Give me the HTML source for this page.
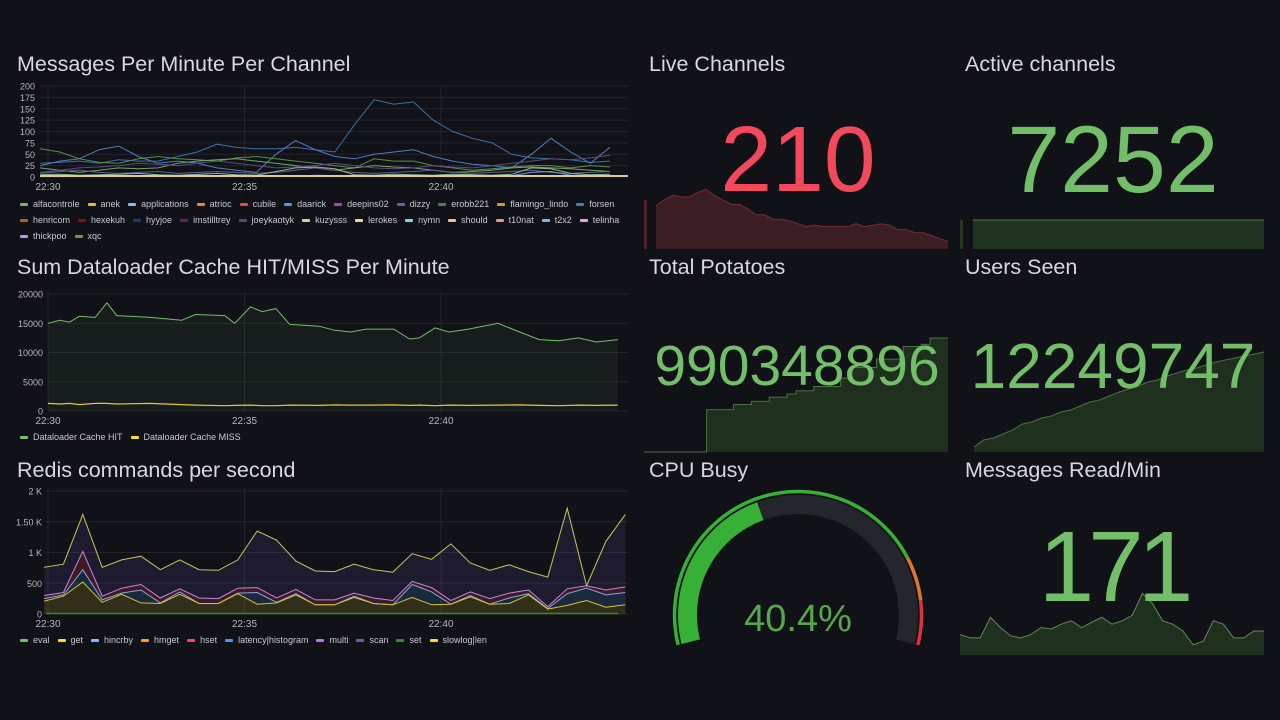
<!DOCTYPE html>
<html><head><meta charset="utf-8"><style>
html,body{margin:0;padding:0;background:#111217;width:1280px;height:720px;overflow:hidden;font-family:"Liberation Sans",sans-serif;color:#ccccdc}
.t{position:absolute;font-size:21.5px;color:#d8d9e0;white-space:nowrap}
svg{position:absolute;left:0;top:0}
.lg{position:absolute;font-size:9px;color:#c7c8d0;white-space:nowrap;display:flex;gap:8px}
.lg span{display:flex;align-items:center}
.lg i{display:inline-block;width:8px;height:3px;border-radius:1px;margin-right:5px}
.big{position:absolute;text-align:center;white-space:nowrap}
</style></head><body>
<div class="t" style="left:17px;top:52px">Messages Per Minute Per Channel</div>
<div class="t" style="left:17px;top:255px">Sum Dataloader Cache HIT/MISS Per Minute</div>
<div class="t" style="left:17px;top:458px">Redis commands per second</div>
<div class="t" style="left:649px;top:52px">Live Channels</div>
<div class="t" style="left:965px;top:52px">Active channels</div>
<div class="t" style="left:649px;top:255px">Total Potatoes</div>
<div class="t" style="left:965px;top:255px">Users Seen</div>
<div class="t" style="left:649px;top:458px">CPU Busy</div>
<div class="t" style="left:965px;top:458px">Messages Read/Min</div>

<svg id="chart" width="1280" height="720"></svg>

<div class="big" style="left:648px;width:300px;top:106px;font-size:93px;color:#f2495c">210</div>
<div class="big" style="left:963px;width:300px;top:106px;font-size:95px;color:#73bf69">7252</div>
<div class="big" style="left:647px;width:300px;top:333px;font-size:57px;color:#73bf69">990348896</div>
<div class="big" style="left:963px;width:300px;top:329px;font-size:64px;color:#73bf69">12249747</div>
<div class="big" style="left:963px;width:300px;top:510px;font-size:100px;color:#73bf69;letter-spacing:-6px">171</div>
<div class="big" style="left:698px;width:200px;top:598px;font-size:38px;color:#56a64b">40.4%</div>

<div class="lg" style="left:20px;top:199px">
<span><i style="background:#7eb26d"></i>alfacontrole</span><span><i style="background:#eab839"></i>anek</span><span><i style="background:#8ab8ff"></i>applications</span><span><i style="background:#ef843c"></i>atrioc</span><span><i style="background:#e24d42"></i>cubile</span><span><i style="background:#5794f2"></i>daarick</span><span><i style="background:#ba43a9"></i>deepins02</span><span><i style="background:#705da0"></i>dizzy</span><span><i style="background:#508642"></i>erobb221</span><span><i style="background:#cca300"></i>flamingo_lindo</span><span><i style="background:#447ebc"></i>forsen</span></div>
<div class="lg" style="left:20px;top:215px">
<span><i style="background:#c15c17"></i>henricom</span><span><i style="background:#890f02"></i>hexekuh</span><span><i style="background:#0a437c"></i>hyyjoe</span><span><i style="background:#6d1f62"></i>imstilltrey</span><span><i style="background:#584477"></i>joeykaotyk</span><span><i style="background:#b7dbab"></i>kuzysss</span><span><i style="background:#f4d598"></i>lerokes</span><span><i style="background:#70dbed"></i>nymn</span><span><i style="background:#f9ba8f"></i>should</span><span><i style="background:#f29191"></i>t10nat</span><span><i style="background:#82b5d8"></i>t2x2</span><span><i style="background:#e5a8e2"></i>telinha</span></div>
<div class="lg" style="left:20px;top:231px">
<span><i style="background:#aea2e0"></i>thickpoo</span><span><i style="background:#629e51"></i>xqc</span></div>
<div class="lg" style="left:20px;top:432px">
<span><i style="background:#73bf69"></i>Dataloader Cache HIT</span><span><i style="background:#fade2a"></i>Dataloader Cache MISS</span></div>
<div class="lg" style="left:20px;top:635px">
<span><i style="background:#73bf69"></i>eval</span><span><i style="background:#fade2a"></i>get</span><span><i style="background:#8ab8ff"></i>hincrby</span><span><i style="background:#ff9830"></i>hmget</span><span><i style="background:#f2495c"></i>hset</span><span><i style="background:#5794f2"></i>latency|histogram</span><span><i style="background:#b877d9"></i>multi</span><span><i style="background:#705da0"></i>scan</span><span><i style="background:#37872d"></i>set</span><span><i style="background:#fade2a"></i>slowlog|len</span></div>

<script>
// ---- Panel 1 data (minutes after 22:30, step 0.5) ----
const msgNames = ["hyyjoe","forsen","xqc","alfacontrole","joeykaotyk","dizzy","kuzysss","t2x2"];
const msgColors = ["#3d6fa8","#4f7fc0","#5a8f4a","#6ea862","#5d4a80","#6a5a95","#8fb985","#6f9cc4"];
const msgHyyjoe = [30,32,35,30,38,35,35,45,55,72,65,62,62,65,60,55,115,170,160,165,125,100,85,75,50,42,40,38,32,35];
const msgForsen = [25,35,40,60,68,45,30,35,30,20,15,10,50,80,60,45,40,50,55,60,45,35,28,25,20,50,85,55,30,65];
const msgXqc = [62,55,40,32,30,40,45,40,38,35,42,45,40,35,30,25,20,40,35,35,25,20,15,18,22,25,25,20,25,22];
const msgAlfa = [20,15,10,15,20,18,20,30,35,38,40,35,30,25,20,15,20,25,22,20,15,10,12,15,20,22,20,18,15,12];
const msgJoey = [10,15,20,22,25,30,28,25,30,35,30,25,20,22,25,30,25,20,18,20,25,22,20,25,30,35,40,38,42,48];
const msgDizzy = [8,12,15,10,8,10,12,8,10,12,10,8,10,15,20,15,10,8,10,12,15,10,8,10,12,15,10,8,10,12];
const msgKuz = [5,6,4,5,6,8,5,4,6,8,5,4,12,20,22,18,5,4,6,5,4,6,5,4,6,20,18,8,5,6];
const msgT2x2 = [3,2,3,4,2,3,2,3,4,3,2,3,3,2,4,3,2,3,2,4,3,2,3,2,3,10,12,4,3,2];
const msgYTicks = [0,25,50,75,100,125,150,175,200];
const timeTicks = [0,5,10];
const timeTickLabels = ["22:30","22:35","22:40"];
// ---- Panel 2 data ----
const hitTimes = [0,0.3,0.55,0.8,1.2,1.5,1.75,2.6,3.4,3.75,4.5,4.75,5.15,5.45,5.8,6.15,6.9,7.3,7.7,8.1,8.8,9.2,9.45,9.85,10.2,10.7,11.45,12.0,12.5,13.0,13.5,13.95,14.5];
const hitVals = [15000,15500,15200,16200,16000,18500,16300,16000,15500,16500,16300,15000,17800,17000,17500,14800,14500,13800,13500,14000,14000,12300,12500,14200,13500,14000,15000,13500,12200,12000,12500,11800,12200];
const missVals = [1300,1200,1300,1100,1300,1300,1200,1300,1100,1000,900,950,1000,900,900,1000,950,1050,1000,1000,1050,950,1000,900,1000,950,1000,1050,950,900,1000,950,1000];
const cacheYTicks = [0,5000,10000,15000,20000];
// ---- Panel 3 data (stacked levels) ----
const redisTotal = [760,810,1620,760,880,940,720,880,720,710,880,1350,1200,860,700,690,810,720,680,980,890,1140,830,710,800,690,600,1720,460,1180,1620];
const redisMulti = [300,350,1020,290,420,480,260,410,260,250,420,430,260,400,230,230,340,260,220,530,430,220,360,250,340,390,120,410,460,390,440];
const redisHincrby = [250,310,720,230,340,390,180,360,170,170,340,350,190,330,150,150,290,170,150,480,360,160,300,160,260,330,90,330,420,310,350];
const redisGet = [210,290,520,190,320,180,170,320,170,170,330,160,180,310,150,150,270,170,150,270,150,160,280,160,170,310,80,140,220,110,150];
const redisYTicks = [0,500,1000,1500,2000];
const redisYLabels = ["0","500","1 K","1.50 K","2 K"];
// ---- Stat sparklines ----
const liveSpark = [254,258,261,260,260,263,265,261,258,255,255,252,248,248,245,245,244,242,240,241,240,240,240,240,242,240,241,242,241,238,238,236,236,234,232,230];
const activeSpark = [7252,7252,7252,7252,7252,7252];
const potatoSpark = [0,0,0,0,0,0,0,40,40,40,45,45,48,48,52,52,55,58,58,62,62,62,70,80,80,80,88,88,88,100,100,102,108,108,108];
const usersSpark = [5,12,14,18,22,28,30,34,36,40,42,46,50,52,56,60,63,66,70,72,76,79,82,84,87,90,92,94,96,98,100];
const readSpark = [30,25,25,55,40,28,25,30,40,38,45,50,40,48,55,45,50,58,90,75,50,45,35,15,20,50,45,25,25,35,35];
const cpuValue = 40.4;
const cpuThresholds = [0,80,90,100];
const cpuThresholdColors = ["#37b036","#e0752d","#e02f44"];

const NS="http://www.w3.org/2000/svg";
const svg=document.getElementById('chart');
function mk(tag,attrs){const e=document.createElementNS(NS,tag);for(const k in attrs)e.setAttribute(k,attrs[k]);svg.appendChild(e);return e;}
function txt(x,y,s,anchor){const e=mk('text',{x:x,y:y,'font-size':10,fill:'#b5b6c0','text-anchor':anchor||'start','font-family':'Liberation Sans, sans-serif'});e.textContent=s;return e;}
function scale(d0,d1,r0,r1){return v=>r0+(v-d0)/(d1-d0)*(r1-r0);}
function pathOf(xs,ys){return xs.map((x,i)=>(i?'L':'M')+x.toFixed(1)+','+ys[i].toFixed(1)).join('');}

const tx=scale(0,1,48,48+39.3);
// Panel 1
(function(){
 const y=scale(0,200,177,86);
 msgYTicks.forEach(v=>{const g=mk('line',{x1:40,x2:628,y1:y(v),y2:y(v),stroke:'#22242a'});
 
 const l=txt(35,y(v)+3.5,String(v),'end');l.setAttribute('font-size',9);
 });
 timeTicks.forEach((t,i)=>{const g=mk('line',{x1:tx(t),x2:tx(t),y1:86,y2:177,stroke:'#22242a'});
 
 const l=txt(tx(t),190,timeTickLabels[i],'middle');
 });
 const all=[msgHyyjoe,msgForsen,msgXqc,msgAlfa,msgJoey,msgDizzy,msgKuz,msgT2x2];
 all.forEach((s,si)=>{const xs=s.map((v,i)=>tx(-0.2+i*0.5)),ys=s.map(v=>y(v));
 const p=mk('path',{d:pathOf(xs,ys),fill:'none',stroke:msgColors[si],'stroke-width':1});
 });
 const b=mk('line',{x1:40,x2:628,y1:176,y2:176,stroke:'#d8c9a8','stroke-width':2});
 
})();
// Panel 2
(function(){
 const y=scale(0,20000,411,294);
 cacheYTicks.forEach(v=>{const g=mk('line',{x1:48,x2:628,y1:y(v),y2:y(v),stroke:'#22242a'});
 
 const l=txt(43,y(v)+3.5,String(v),'end');l.setAttribute('font-size',9);
 });
 timeTicks.forEach((t,i)=>{const g=mk('line',{x1:tx(t),x2:tx(t),y1:290,y2:411,stroke:'#22242a'});
 
 const l=txt(tx(t),424,timeTickLabels[i],'middle');
 });
 const xs=hitTimes.map(t=>tx(t));
 const a=mk('path',{d:pathOf(xs,hitVals.map(y))+'L'+xs[xs.length-1]+','+y(0)+'L'+xs[0]+','+y(0)+'Z',fill:'rgba(115,191,105,0.07)'});
 
 const p=mk('path',{d:pathOf(xs,hitVals.map(y)),fill:'none',stroke:'#73bf69','stroke-width':1});
 
 const m=mk('path',{d:pathOf(xs,missVals.map(y)),fill:'none',stroke:'#e0c640','stroke-width':1.2});
 
})();
// Panel 3
(function(){
 const y=scale(0,2000,614,491);
 redisYTicks.forEach((v,i)=>{const g=mk('line',{x1:46,x2:628,y1:y(v),y2:y(v),stroke:'#22242a'});
 
 const l=txt(42,y(v)+3.5,redisYLabels[i],'end');l.setAttribute('font-size',9);
 });
 timeTicks.forEach((t,i)=>{const g=mk('line',{x1:tx(t),x2:tx(t),y1:488,y2:614,stroke:'#22242a'});
 
 const l=txt(tx(t),627,timeTickLabels[i],'middle');
 });
 const xs=redisTotal.map((v,i)=>tx(-0.1+i*0.493));
 const layers=[[redisTotal,redisMulti,'#c9c35a','rgba(120,90,200,0.13)','slowlog-len'],[redisMulti,redisHincrby,'#c488e0','rgba(150,40,60,0.35)','multi'],[redisHincrby,redisGet,'#8aa8d8','rgba(60,110,170,0.25)','hincrby'],[redisGet,null,'#d4c23a','rgba(200,180,40,0.18)','get']];
 layers.forEach(L=>{const top=L[0].map(y),bot=L[1]?L[1].map(y):xs.map(()=>y(0));
 const d=pathOf(xs,top)+pathOf(xs.slice().reverse(),bot.slice().reverse()).replace('M','L')+'Z';
 const a=mk('path',{d:d,fill:L[3]});
 const p=mk('path',{d:pathOf(xs,top),fill:'none',stroke:L[2],'stroke-width':1});
 });
 const e=mk('line',{x1:46,x2:618,y1:y(0)-0.5,y2:y(0)-0.5,stroke:'#37872d','stroke-width':1.5});
 
})();
// Sparklines
function spark(vals,x0,x1,yb,yt,vmin,vmax,stroke,fill,name,step){
 const xs=vals.map((v,i)=>x0+i*(x1-x0)/(vals.length-1)),ys=vals.map(scale(vmin,vmax,yb,yt));
 let d='';xs.forEach((x,i)=>{if(!i)d+='M'+x+','+ys[i];else if(step)d+='L'+x+','+ys[i-1]+'L'+x+','+ys[i];else d+='L'+x+','+ys[i];});
 const a=mk('path',{d:d+'L'+x1+','+yb+'L'+x0+','+yb+'Z',fill:fill});
 
 const p=mk('path',{d:d,fill:'none',stroke:stroke,'stroke-width':1});
 
}
const lb=mk('rect',{x:644,y:200,width:3,height:49,fill:'#4a2228'});
spark(liveSpark,656,948,249,185,225,268,'#7a2a33','#3a1e24','live-channels-sparkline',false);
const ab=mk('rect',{x:960,y:220,width:3,height:29,fill:'#243822'});
spark(activeSpark,973,1264,249,220,0,7252,'#4d7a47','#1f3320','active-channels-sparkline',false);
spark(potatoSpark,644,948,452,338,0,108,'#4a7044','#1f301f','total-potatoes-sparkline',true);
spark(usersSpark,974,1264,452,352,0,100,'#4a7044','#1f301f','users-seen-sparkline',false);
spark(readSpark,960,1264,655,590,0,95,'#5f8a58','#1f301f','messages-read-sparkline',false);
// Gauge
(function(){
 const cx=798,cy=615,a0=194,span=208;
 function pt(r,f){const a=(a0-span*f)*Math.PI/180;return [cx+r*Math.cos(a),cy-r*Math.sin(a)];}
 function arc(r,f0,f1){const p0=pt(r,f0),p1=pt(r,f1);const large=(f1-f0)*span>180?1:0;return 'M'+p0[0]+','+p0[1]+'A'+r+','+r+' 0 '+large+' 1 '+p1[0]+','+p1[1];}
 const bg=mk('path',{d:arc(110.5,0,1),fill:'none',stroke:'#24262c','stroke-width':19});
 
 const fg=mk('path',{d:arc(110.5,0,cpuValue/100),fill:'none',stroke:'#37b036','stroke-width':19});
 
 for(let i=0;i<cpuThresholdColors.length;i++){
  const t=mk('path',{d:arc(123.5,cpuThresholds[i]/100,cpuThresholds[i+1]/100),fill:'none',stroke:cpuThresholdColors[i],'stroke-width':3.5});
  }
})();
</script>
</body></html>
